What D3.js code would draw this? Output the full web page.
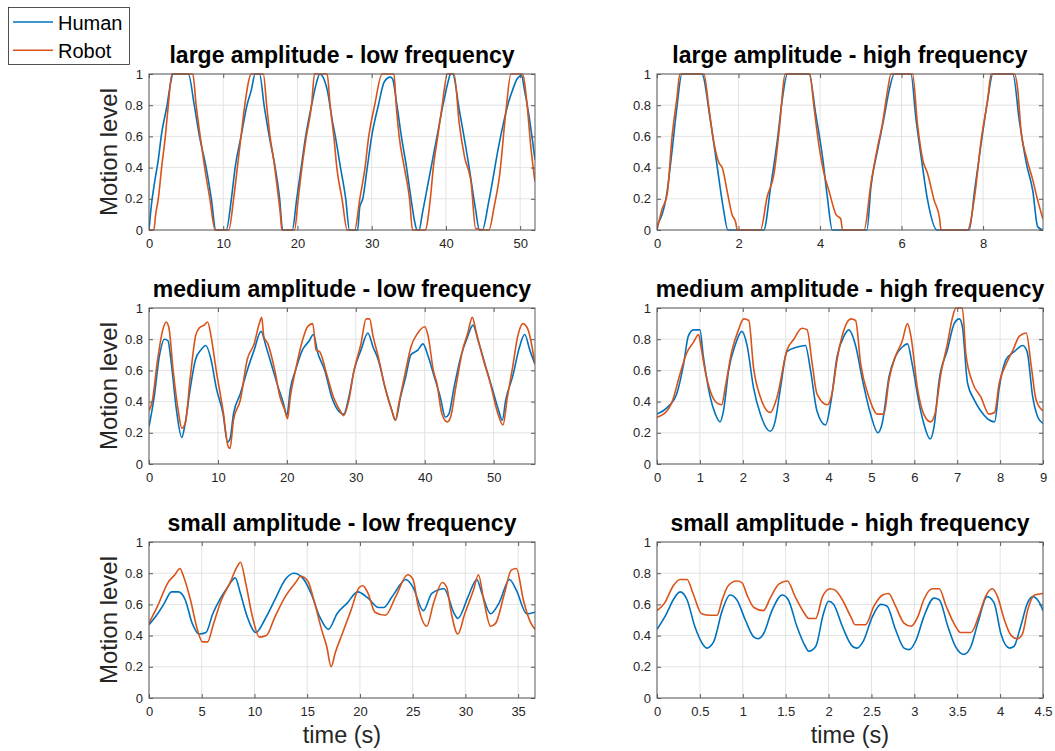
<!DOCTYPE html>
<html>
<head>
<meta charset="utf-8">
<script src="https://cdn.jsdelivr.net/npm/d3@7"></script>
<style>
  html, body { margin: 0; padding: 0; background: #fff; }
  svg { display: block; font-family: "Liberation Sans", Arial, Helvetica, sans-serif; }
</style>
</head>
<body>
<svg id="chart" width="1055" height="751"></svg>
<script>
// values, [time (s), motion level]
const largeLowHuman = [[0,0],[0.3,0.15],[0.8,0.32],[1.25,0.45],[1.7,0.62],[2.4,0.79],[2.9,0.94],[3.2,1],[5.3,1],[6.1,0.8],[6.8,0.6],[7.7,0.4],[8.4,0.2],[9.0,0],[10.4,0],[11.1,0.2],[11.6,0.4],[12.4,0.6],[13.2,0.8],[13.8,0.9],[14.3,1],[14.9,1],[15.5,0.8],[16.2,0.6],[17.0,0.4],[17.6,0.2],[18.0,0],[19.3,0],[19.9,0.2],[20.5,0.4],[21.1,0.6],[21.9,0.8],[22.6,0.95],[23.0,1],[24.0,0.9],[24.7,0.7],[25.1,0.6],[25.8,0.4],[26.5,0.2],[27.0,0],[28.1,0],[28.4,0.15],[28.8,0.2],[29.4,0.4],[30.0,0.6],[30.9,0.8],[31.7,0.95],[32.5,0.98],[32.8,0.97],[33.4,0.8],[34.0,0.6],[34.7,0.4],[35.3,0.2],[35.8,0.05],[36.1,0],[36.4,0],[36.8,0.1],[37.2,0.2],[38.0,0.4],[38.8,0.6],[39.6,0.8],[40.4,0.97],[40.6,1],[40.9,1],[41.8,0.77],[43.1,0.41],[44.0,0.13],[44.5,0],[44.9,0],[45.8,0.19],[47.2,0.56],[48.5,0.83],[49.0,0.9],[49.6,0.97],[50.2,0.99],[50.5,0.92],[51.2,0.73],[52,0.45]];
const largeLowRobot = [[0,0],[0.65,0],[0.9,0.1],[1.25,0.2],[1.7,0.4],[2.2,0.6],[2.6,0.8],[3.1,1],[5.9,1],[6.35,0.8],[6.9,0.6],[7.5,0.4],[8.2,0.2],[8.9,0],[10.75,0],[11.4,0.2],[11.9,0.4],[12.4,0.6],[12.9,0.8],[13.8,1],[15.4,1],[15.85,0.8],[16.3,0.6],[16.8,0.45],[17.2,0.3],[17.7,0.1],[17.9,0],[19.6,0],[20.1,0.2],[20.6,0.4],[21.2,0.6],[21.9,0.8],[22.3,1],[24.0,1],[24.4,0.8],[24.9,0.6],[25.3,0.4],[26.0,0.2],[26.7,0],[27.7,0],[28.4,0.2],[29.1,0.4],[29.6,0.6],[30.4,0.8],[31.4,1],[33.0,1],[33.3,0.8],[33.7,0.6],[34.4,0.4],[35.1,0.2],[35.5,0],[37.2,0],[37.9,0.2],[38.3,0.4],[38.9,0.6],[39.5,0.8],[40.2,1],[41.1,1],[41.8,0.68],[42.5,0.47],[43.4,0.3],[44.0,0.01],[45.8,0],[46.5,0.15],[47.2,0.34],[48.1,0.77],[48.75,1],[50.3,1],[51.0,0.77],[51.4,0.55],[52,0.31]];

const largeHighHuman = [[0,0.03],[0.25,0.25],[0.37,0.51],[0.49,0.79],[0.61,1],[1.1,1],[1.31,0.7],[1.48,0.4],[1.62,0.15],[1.74,0],[2.62,0],[2.79,0.28],[2.95,0.57],[3.07,0.83],[3.2,1],[3.73,1],[3.89,0.75],[4.06,0.47],[4.18,0.21],[4.3,0],[5.15,0],[5.25,0.28],[5.41,0.51],[5.57,0.72],[5.7,0.9],[5.82,1],[6.23,1],[6.35,0.72],[6.48,0.47],[6.64,0.19],[6.87,0],[7.66,0],[7.79,0.25],[7.95,0.55],[8.11,0.83],[8.24,1],[8.73,1],[8.89,0.7],[9.06,0.43],[9.22,0.25],[9.34,0.02],[9.47,0]];
const largeHighRobot = [[0,0],[0.12,0.13],[0.25,0.23],[0.37,0.6],[0.49,0.85],[0.56,1],[1.15,1],[1.27,0.79],[1.39,0.57],[1.52,0.43],[1.6,0.4],[1.72,0.25],[1.84,0.1],[1.93,0.05],[1.97,0],[2.54,0],[2.7,0.21],[2.87,0.36],[2.99,0.62],[3.15,1],[3.75,1],[3.85,0.79],[3.98,0.53],[4.1,0.36],[4.22,0.25],[4.39,0.1],[4.51,0.07],[4.55,0],[5.08,0],[5.25,0.3],[5.41,0.53],[5.53,0.68],[5.66,0.9],[5.74,1],[6.27,1],[6.39,0.68],[6.52,0.45],[6.64,0.36],[6.8,0.19],[6.93,0.08],[6.97,0],[7.62,0],[7.79,0.21],[7.95,0.57],[8.11,0.83],[8.2,1],[8.77,1],[8.85,0.9],[8.93,0.64],[9.06,0.47],[9.22,0.32],[9.34,0.19],[9.47,0.07]];

const mediumLowHuman = [[0,0.24],[0.75,0.43],[1.5,0.69],[2.25,0.8],[2.75,0.79],[3.25,0.64],[4,0.34],[4.75,0.17],[5.25,0.26],[6,0.49],[6.75,0.67],[7.5,0.73],[8.25,0.76],[9,0.67],[9.75,0.49],[10.75,0.32],[11.4,0.14],[11.75,0.16],[12.25,0.32],[13.25,0.45],[14.25,0.6],[15.25,0.73],[16.25,0.85],[17,0.75],[17.75,0.64],[18.75,0.49],[19.5,0.39],[20,0.31],[20.5,0.48],[21.25,0.6],[22.25,0.73],[23.25,0.79],[23.85,0.83],[24.5,0.71],[25.5,0.6],[26.5,0.43],[27.5,0.34],[28.25,0.32],[29,0.43],[29.75,0.6],[30.75,0.73],[31.75,0.84],[32.5,0.75],[33.25,0.67],[34.25,0.49],[35.25,0.34],[35.75,0.28],[36.5,0.43],[37.25,0.56],[38,0.7],[39,0.73],[39.75,0.77],[40.5,0.69],[41.25,0.58],[42.25,0.43],[43,0.3],[43.5,0.32],[44.25,0.49],[45.25,0.69],[46.25,0.82],[47,0.89],[47.75,0.79],[48.75,0.64],[49.75,0.49],[50.75,0.34],[51.25,0.28],[51.75,0.41],[52.75,0.56],[53.75,0.75],[54.5,0.83],[55.25,0.73],[56,0.64]];
const mediumLowRobot = [[0,0.34],[0.5,0.41],[1.25,0.67],[2,0.86],[2.5,0.91],[2.9,0.87],[3.5,0.6],[4.25,0.34],[4.75,0.23],[5.25,0.26],[6,0.56],[6.75,0.82],[7.25,0.87],[8,0.89],[8.5,0.91],[9,0.82],[9.75,0.6],[10.75,0.34],[11.5,0.11],[11.75,0.1],[12.25,0.28],[13.25,0.41],[14.25,0.67],[15.25,0.77],[16,0.9],[16.35,0.94],[16.65,0.82],[17.25,0.77],[18.25,0.6],[19,0.43],[19.75,0.34],[20.1,0.29],[20.5,0.43],[21.25,0.6],[22.25,0.79],[23,0.88],[23.75,0.9],[24.25,0.73],[24.75,0.72],[25.75,0.58],[26.75,0.43],[27.75,0.34],[28.25,0.31],[29,0.41],[29.75,0.6],[30.75,0.77],[31.5,0.93],[32,0.93],[32.5,0.82],[33.25,0.69],[34.25,0.49],[35.25,0.34],[35.75,0.28],[36.25,0.39],[37.25,0.6],[38,0.75],[39,0.84],[40,0.88],[40.5,0.82],[41.25,0.6],[41.75,0.52],[42.5,0.32],[43.25,0.27],[43.75,0.3],[44.5,0.49],[45.5,0.73],[46.25,0.84],[46.9,0.94],[47.5,0.84],[48.5,0.67],[49.5,0.52],[50.5,0.34],[51.35,0.25],[52,0.43],[52.75,0.62],[53.5,0.82],[54.25,0.9],[55,0.86],[56,0.64]];

const mediumHighHuman = [[0,0.32],[0.23,0.36],[0.46,0.45],[0.62,0.64],[0.73,0.82],[0.85,0.86],[1,0.86],[1.08,0.69],[1.24,0.43],[1.36,0.32],[1.47,0.27],[1.55,0.34],[1.67,0.6],[1.82,0.76],[1.98,0.85],[2.1,0.76],[2.25,0.49],[2.41,0.32],[2.64,0.21],[2.76,0.28],[2.88,0.49],[3.03,0.72],[3.27,0.75],[3.46,0.76],[3.58,0.6],[3.73,0.34],[3.93,0.25],[4.05,0.39],[4.2,0.69],[4.36,0.82],[4.47,0.86],[4.63,0.76],[4.79,0.54],[4.98,0.32],[5.15,0.2],[5.25,0.26],[5.41,0.56],[5.56,0.69],[5.72,0.75],[5.84,0.77],[5.95,0.64],[6.11,0.39],[6.22,0.26],[6.37,0.16],[6.46,0.24],[6.58,0.54],[6.77,0.73],[6.93,0.9],[7.05,0.93],[7.12,0.88],[7.24,0.52],[7.4,0.41],[7.55,0.34],[7.71,0.29],[7.87,0.27],[7.98,0.49],[8.14,0.67],[8.33,0.72],[8.53,0.76],[8.63,0.72],[8.76,0.43],[8.88,0.3],[9,0.26]];
const mediumHighRobot = [[0,0.3],[0.23,0.34],[0.34,0.39],[0.54,0.58],[0.69,0.71],[0.85,0.78],[0.97,0.83],[1.02,0.76],[1.12,0.6],[1.24,0.47],[1.4,0.39],[1.51,0.38],[1.59,0.49],[1.75,0.73],[1.9,0.86],[2.02,0.93],[2.14,0.92],[2.25,0.62],[2.41,0.43],[2.64,0.33],[2.8,0.43],[3.03,0.73],[3.19,0.8],[3.38,0.87],[3.5,0.86],[3.62,0.64],[3.73,0.45],[3.97,0.38],[4.08,0.45],[4.2,0.67],[4.36,0.86],[4.52,0.93],[4.63,0.92],[4.75,0.64],[4.94,0.43],[5.14,0.32],[5.29,0.32],[5.41,0.54],[5.56,0.69],[5.72,0.79],[5.84,0.9],[5.92,0.82],[6.07,0.49],[6.22,0.32],[6.38,0.27],[6.48,0.32],[6.62,0.58],[6.77,0.77],[6.89,0.94],[6.97,1],[7.12,1],[7.2,0.71],[7.36,0.52],[7.55,0.43],[7.74,0.32],[7.87,0.33],[7.98,0.52],[8.14,0.64],[8.3,0.73],[8.45,0.82],[8.61,0.84],[8.72,0.64],[8.84,0.41],[9,0.34]];

const smallLowHuman = [[0,0.47],[0.82,0.54],[1.47,0.61],[2.13,0.68],[2.78,0.68],[3.43,0.63],[4.09,0.48],[4.74,0.41],[5.4,0.42],[6.05,0.54],[6.71,0.63],[7.36,0.7],[8.18,0.77],[8.67,0.67],[9.32,0.52],[10.14,0.42],[10.96,0.5],[11.94,0.63],[12.92,0.76],[13.74,0.8],[14.56,0.77],[15.37,0.67],[16.19,0.52],[17.01,0.44],[17.83,0.54],[18.81,0.61],[19.79,0.68],[20.77,0.64],[21.75,0.58],[22.24,0.58],[23.06,0.65],[24.37,0.76],[25.03,0.71],[26.01,0.56],[26.82,0.67],[27.97,0.7],[28.95,0.54],[29.28,0.51],[30.26,0.65],[31.08,0.76],[31.57,0.67],[32.39,0.54],[33.2,0.61],[34.18,0.76],[34.84,0.69],[35.82,0.54],[36.6,0.55]];
const smallLowRobot = [[0,0.48],[0.82,0.59],[1.8,0.74],[2.45,0.79],[2.94,0.83],[3.27,0.78],[3.93,0.63],[4.58,0.44],[5.07,0.36],[5.56,0.36],[6.05,0.46],[6.87,0.63],[7.69,0.74],[8.34,0.84],[8.67,0.87],[9.16,0.74],[9.81,0.52],[10.47,0.39],[11.12,0.4],[11.94,0.52],[12.92,0.65],[13.9,0.74],[14.39,0.78],[15.05,0.75],[15.7,0.61],[16.36,0.44],[16.85,0.33],[17.27,0.2],[17.66,0.29],[18.32,0.41],[19.14,0.56],[19.95,0.71],[20.28,0.72],[20.77,0.67],[21.43,0.55],[22.41,0.53],[23.39,0.65],[24.53,0.79],[25.03,0.76],[25.52,0.59],[26.33,0.46],[26.99,0.61],[27.81,0.74],[28.23,0.71],[28.62,0.56],[29.28,0.41],[29.94,0.54],[30.76,0.69],[31.24,0.79],[31.73,0.63],[32.39,0.46],[32.88,0.48],[33.7,0.67],[34.35,0.82],[34.84,0.83],[35.49,0.63],[36.14,0.49],[36.6,0.44]];

const smallHighHuman = [[0,0.44],[0.11,0.54],[0.19,0.63],[0.27,0.68],[0.35,0.63],[0.44,0.46],[0.54,0.34],[0.58,0.32],[0.66,0.36],[0.76,0.56],[0.85,0.66],[0.93,0.63],[1.03,0.5],[1.13,0.39],[1.18,0.38],[1.24,0.41],[1.34,0.56],[1.46,0.66],[1.53,0.63],[1.63,0.46],[1.73,0.33],[1.77,0.3],[1.85,0.33],[1.94,0.54],[2.0,0.62],[2.06,0.6],[2.16,0.46],[2.28,0.33],[2.33,0.32],[2.41,0.37],[2.51,0.52],[2.61,0.6],[2.68,0.59],[2.78,0.44],[2.88,0.32],[2.94,0.31],[3.02,0.37],[3.11,0.52],[3.23,0.64],[3.29,0.63],[3.39,0.46],[3.48,0.33],[3.58,0.28],[3.66,0.33],[3.74,0.48],[3.85,0.65],[3.93,0.61],[4.01,0.41],[4.11,0.32],[4.16,0.33],[4.24,0.46],[4.32,0.61],[4.38,0.65],[4.46,0.61],[4.5,0.56]];
const smallHighRobot = [[0,0.56],[0.09,0.61],[0.19,0.72],[0.27,0.76],[0.35,0.76],[0.42,0.67],[0.52,0.54],[0.62,0.53],[0.7,0.53],[0.76,0.63],[0.83,0.72],[0.93,0.75],[0.99,0.74],[1.05,0.66],[1.13,0.58],[1.24,0.56],[1.32,0.64],[1.42,0.73],[1.52,0.75],[1.61,0.65],[1.71,0.55],[1.77,0.51],[1.85,0.51],[1.93,0.65],[2.02,0.7],[2.08,0.69],[2.16,0.63],[2.26,0.52],[2.31,0.47],[2.43,0.47],[2.53,0.59],[2.63,0.66],[2.7,0.67],[2.78,0.59],[2.88,0.48],[2.96,0.46],[3.04,0.52],[3.11,0.63],[3.21,0.7],[3.29,0.7],[3.37,0.59],[3.46,0.48],[3.54,0.42],[3.66,0.42],[3.76,0.54],[3.83,0.65],[3.91,0.7],[3.97,0.65],[4.05,0.5],[4.13,0.4],[4.2,0.38],[4.26,0.41],[4.32,0.56],[4.4,0.66],[4.5,0.67]];

const panelTitles = [
  'large amplitude - low frequency', 'large amplitude - high frequency',
  'medium amplitude - low frequency', 'medium amplitude - high frequency',
  'small amplitude - low frequency', 'small amplitude - high frequency'
];
const humanSeries = [largeLowHuman, largeHighHuman, mediumLowHuman, mediumHighHuman, smallLowHuman, smallHighHuman];
const robotSeries = [largeLowRobot, largeHighRobot, mediumLowRobot, mediumHighRobot, smallLowRobot, smallHighRobot];
const xMaxes = [52, 9.47, 56, 9, 36.6, 4.5];
const xTickValues = [
  [0, 10, 20, 30, 40, 50], [0, 2, 4, 6, 8],
  [0, 10, 20, 30, 40, 50], [0, 1, 2, 3, 4, 5, 6, 7, 8, 9],
  [0, 5, 10, 15, 20, 25, 30, 35], [0, 0.5, 1, 1.5, 2, 2.5, 3, 3.5, 4, 4.5]
];
const yTickValues = [0, 0.2, 0.4, 0.6, 0.8, 1];
const seriesNames = ['Human', 'Robot'];
const seriesColors = ['#0072BD', '#D95319'];

const colLeft = [149, 657];
const rowTop = [74, 308, 542];
const plotW = 386, plotH = 156;
const textColor = '#262626';
const boxColor = '#5c5c5c';

const svg = d3.select('#chart');

panelTitles.forEach((title, i) => {
  const col = i % 2, row = Math.floor(i / 2);
  const g = svg.append('g').attr('transform', `translate(${colLeft[col]},${rowTop[row]})`);

  const x = d3.scaleLinear().domain([0, xMaxes[i]]).range([0, plotW]);
  const y = d3.scaleLinear().domain([0, 1]).range([plotH, 0]);

  // grid
  g.append('g').selectAll('line')
    .data(xTickValues[i]).enter().append('line')
    .attr('x1', d => x(d)).attr('x2', d => x(d))
    .attr('y1', 0).attr('y2', plotH)
    .attr('stroke', '#e3e3e3');
  g.append('g').selectAll('line')
    .data(yTickValues).enter().append('line')
    .attr('x1', 0).attr('x2', plotW)
    .attr('y1', d => y(d)).attr('y2', d => y(d))
    .attr('stroke', '#e3e3e3');

  // lines
  const clipId = 'clip' + i;
  g.append('clipPath').attr('id', clipId)
    .append('rect').attr('x', 0).attr('y', -1).attr('width', plotW).attr('height', plotH + 2);

  const line = d3.line()
    .x(d => x(d[0]))
    .y(d => y(d[1]))
    .curve(d3.curveMonotoneX);

  [humanSeries[i], robotSeries[i]].forEach((data, k) => {
    g.append('path')
      .datum(data)
      .attr('clip-path', `url(#${clipId})`)
      .attr('fill', 'none')
      .attr('stroke', seriesColors[k])
      .attr('stroke-width', 1.6)
      .attr('stroke-linejoin', 'round')
      .attr('d', line);
  });

  // axes, ticks pointing inward like matlab
  const fmt = d3.format('~g');
  const styleAxis = sel => {
    sel.select('.domain').remove();
    sel.selectAll('line').attr('stroke', boxColor);
    sel.selectAll('text').attr('fill', textColor).attr('font-size', 13)
      .attr('font-family', '"Liberation Sans", Arial, Helvetica, sans-serif');
  };
  g.append('g').attr('transform', `translate(0,${plotH})`)
    .call(d3.axisBottom(x).tickValues(xTickValues[i]).tickFormat(fmt).tickSize(-4).tickPadding(9))
    .call(styleAxis);
  g.append('g')
    .call(d3.axisTop(x).tickValues(xTickValues[i]).tickFormat('').tickSize(-4))
    .call(styleAxis);
  g.append('g')
    .call(d3.axisLeft(y).tickValues(yTickValues).tickFormat(fmt).tickSize(-4).tickPadding(6))
    .call(styleAxis);
  g.append('g').attr('transform', `translate(${plotW},0)`)
    .call(d3.axisRight(y).tickValues(yTickValues).tickFormat('').tickSize(-4))
    .call(styleAxis);

  g.append('rect')
    .attr('x', 0).attr('y', 0).attr('width', plotW).attr('height', plotH)
    .attr('fill', 'none').attr('stroke', boxColor).attr('stroke-width', 1);

  // title
  g.append('text')
    .attr('x', plotW / 2).attr('y', -11.5)
    .attr('text-anchor', 'middle')
    .attr('font-size', 23).attr('font-weight', 'bold')
    .attr('fill', '#000')
    .text(title);

  if (col === 0) {
    g.append('text')
      .attr('transform', `translate(-32,${plotH / 2}) rotate(-90)`)
      .attr('text-anchor', 'middle')
      .attr('font-size', 24)
      .attr('fill', textColor)
      .text('Motion level');
  }
  if (row === 2) {
    g.append('text')
      .attr('x', plotW / 2).attr('y', plotH + 45)
      .attr('text-anchor', 'middle')
      .attr('font-size', 23.5)
      .attr('fill', textColor)
      .text('time (s)');
  }
});

// legend
const legend = svg.append('g');
legend.append('rect')
  .attr('x', 8.5).attr('y', 7.5).attr('width', 121).attr('height', 57)
  .attr('fill', '#fff').attr('stroke', textColor).attr('stroke-width', 0.8);
seriesNames.forEach((name, k) => {
  const ly = 22 + k * 28.3;
  legend.append('line')
    .attr('x1', 13).attr('x2', 53).attr('y1', ly).attr('y2', ly)
    .attr('stroke', seriesColors[k]).attr('stroke-width', 1.6);
  legend.append('text')
    .attr('x', 58).attr('y', ly + 7.5)
    .attr('font-size', 20).attr('fill', '#000')
    .text(name);
});
</script>
</body>
</html>
